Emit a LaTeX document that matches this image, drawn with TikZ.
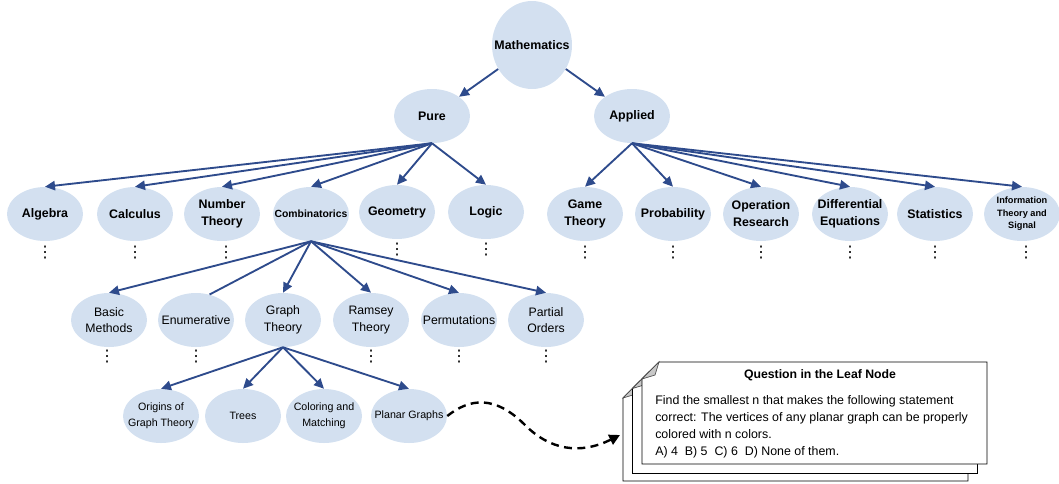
\documentclass[tikz,border=0pt]{standalone}
\usepackage{fontspec}
\setmainfont{Liberation Sans}
\newfontfamily\dotsfont{DejaVu Sans}
\usetikzlibrary{shapes.geometric,arrows.meta}
\definecolor{nodeblue}{RGB}{211,224,240}
\definecolor{edgeblue}{RGB}{46,75,140}
\definecolor{foldgray}{RGB}{200,200,200}

\begin{document}
\begin{tikzpicture}[x=0.75pt,y=-0.75pt,
    topic/.style={ellipse,fill=nodeblue,inner xsep=-12pt,inner ysep=0pt,minimum width=57pt,minimum height=40.5pt,
        align=center,font=\bfseries\fontsize{9.3}{12.7}\selectfont},
    sub/.style={topic,font=\fontsize{9.2}{12.5}\selectfont},
    leaf/.style={topic,font=\fontsize{8}{11.7}\selectfont},
    more/.style={inner sep=0pt,font=\dotsfont\fontsize{12}{12}\selectfont},
    link/.style={draw=edgeblue,line width=1.4pt,-{Triangle[length=7.5pt,width=7pt]}},
    card/.style={draw=black,line width=0.7pt,fill=white},
    fold/.style={draw=black!70,line width=0.5pt,fill=foldgray}]
    \useasboundingbox (0,0) rectangle (1059,483);
    \node [topic,minimum width=60pt,minimum height=66pt] (math) at (532,45) {Mathematics};
    \node [topic] (pure) at (432,116) {Pure};
    \node [topic] (applied) at (632,116) {Applied};
    \node [topic] (algebra) at (45,214) {Algebra};
    \node [topic] (calculus) at (135,214) {Calculus};
    \node [topic] (numtheory) at (222,214) {Number\\Theory};
    \node [topic,font=\bfseries\fontsize{7.8}{10}\selectfont] (comb) at (311,214) {Combinatorics};
    \node [topic] (geometry) at (397,212) {Geometry};
    \node [topic] (logic) at (486,212) {Logic};
    \node [topic] (gametheory) at (585,214) {Game\\Theory};
    \node [topic] (prob) at (673,214) {Probability};
    \node [topic] (opres) at (761,214) {Operation\\Research};
    \node [topic] (diffeq) at (850,214) {Differential\\Equations};
    \node [topic] (stats) at (935,214) {Statistics};
    \node [topic,font=\bfseries\fontsize{6.9}{9.4}\selectfont] (info) at (1022,214) {Information\\Theory and\\Signal};
    \node [sub] (basic) at (109,320) {Basic\\Methods};
    \node [sub] (enum) at (196,320) {Enumerative};
    \node [sub] (graph) at (283,320) {Graph\\Theory};
    \node [sub] (ramsey) at (371,320) {Ramsey\\Theory};
    \node [sub] (perm) at (459,320) {Permutations};
    \node [sub] (partial) at (546,320) {Partial\\Orders};
    \node [leaf] (origins) at (161,416) {Origins of\\Graph Theory};
    \node [leaf] (trees) at (243,416) {Trees};
    \node [leaf] (coloring) at (324,416) {Coloring and\\Matching};
    \node [leaf] (planar) at (409,416) {Planar Graphs};
    \node [more] (algebra-more) at (45,253) {⋮};
    \node [more] (calculus-more) at (135,253) {⋮};
    \node [more] (numtheory-more) at (226,253) {⋮};
    \node [more] (geometry-more) at (397,250) {⋮};
    \node [more] (logic-more) at (486,250) {⋮};
    \node [more] (gametheory-more) at (585,253) {⋮};
    \node [more] (prob-more) at (673,253) {⋮};
    \node [more] (opres-more) at (761,253) {⋮};
    \node [more] (diffeq-more) at (850,253) {⋮};
    \node [more] (stats-more) at (935,253) {⋮};
    \node [more] (info-more) at (1026,253) {⋮};
    \node [more] (basic-more) at (107,357) {⋮};
    \node [more] (enum-more) at (196,357) {⋮};
    \node [more] (ramsey-more) at (371,357) {⋮};
    \node [more] (perm-more) at (459,357) {⋮};
    \node [more] (partial-more) at (546,357) {⋮};
    \draw [link] (math) -- (pure);
    \draw [link] (math) -- (applied);
    \draw [link] (pure.south) -- (algebra.north);
    \draw [link] (pure.south) -- (calculus.north);
    \draw [link] (pure.south) -- (numtheory.north);
    \draw [link] (pure.south) -- (comb.north);
    \draw [link] (pure.south) -- (geometry.north);
    \draw [link] (pure.south) -- (logic.north);
    \draw [link] (applied.south) -- (gametheory.north);
    \draw [link] (applied.south) -- (prob.north);
    \draw [link] (applied.south) -- (opres.north);
    \draw [link] (applied.south) -- (diffeq.north);
    \draw [link] (applied.south) -- (stats.north);
    \draw [link] (applied.south) -- (info.north);
    \draw [link] (comb.south) -- (basic.north);
    \draw [link,-] (comb.south) -- (enum.62);
    \draw [link] (comb.south) -- (graph.north);
    \draw [link] (comb.south) -- (ramsey.north);
    \draw [link] (comb.south) -- (perm.north);
    \draw [link] (comb.south) -- (partial.north);
    \draw [link] (graph.south) -- (origins.north);
    \draw [link] (graph.south) -- (trees.north);
    \draw [link] (graph.south) -- (coloring.north);
    \draw [link] (graph.south) -- (planar.north);
    \draw [card,shift={(-19,19)}] (659,362) -- (987,362) -- (987,462) -- (642,462) -- (642,379) -- cycle;
    \draw [fold,shift={(-19,19)}] (659,362) -- (642,379) -- (655,375) -- cycle;
    \draw [card,shift={(-9.5,9.5)}] (659,362) -- (987,362) -- (987,464) -- (642,464) -- (642,379) -- cycle;
    \draw [fold,shift={(-9.5,9.5)}] (659,362) -- (642,379) -- (655,375) -- cycle;
    \draw [card] (659,362) -- (987,362) -- (987,464) -- (642,464) -- (642,379) -- cycle;
    \draw [fold] (659,362) -- (642,379) -- (655,375) -- cycle;
    \node [font=\bfseries\fontsize{9.2}{11}\selectfont,inner sep=0pt] (qtitle) at (820,375) {Question in the Leaf Node};
    \node [font=\fontsize{9.3}{12.75}\selectfont,inner sep=0pt,align=left,anchor=north west] (qbody) at (655,395)
        {Find the smallest n that makes the following statement\\
         correct: The vertices of any planar graph can be properly\\
         colored with n colors.\\
         A) 4\ \ B) 5\ \ C) 6\ \ D) None of them.};
    \coordinate (qin) at (620,435);
    \draw [line width=1.8pt,dash pattern=on 6pt off 4pt,-{Triangle[length=8pt,width=8pt]}]
        (planar.east) .. controls (470,398) and (495,395) .. (525,425)
        .. controls (550,450) and (580,455) .. (qin);
\end{tikzpicture}
\end{document}
